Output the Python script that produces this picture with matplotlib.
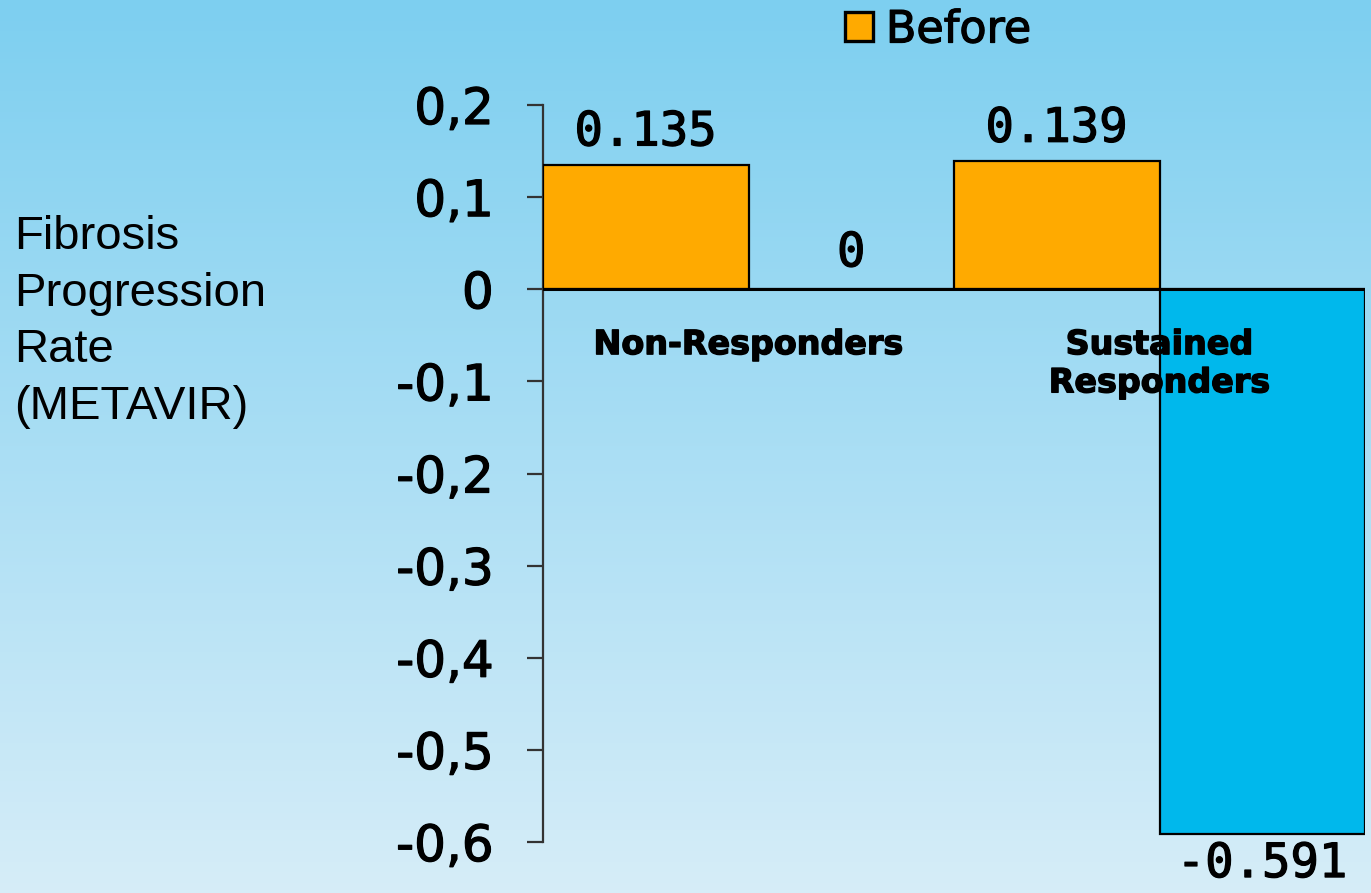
import numpy as np
import matplotlib
matplotlib.use("Agg")
import matplotlib.pyplot as plt
from matplotlib import patheffects as pe
from matplotlib.colors import LinearSegmentedColormap

categories = ["Non-Responders", "Sustained\nResponders"]
before = [0.135, 0.139]
after = [0.0, -0.591]
before_labels = ["0.135", "0.139"]
after_labels = ["0", "-0.591"]
yticks = [0.2, 0.1, 0.0, -0.1, -0.2, -0.3, -0.4, -0.5, -0.6]
ytick_labels = ["0,2", "0,1", "0", "-0,1", "-0,2", "-0,3", "-0,4", "-0,5", "-0,6"]

W, H = 1371, 893
fig = plt.figure(figsize=(W / 100, H / 100), dpi=100)

# background gradient
bg = fig.add_axes([0, 0, 1, 1], zorder=-10)
cmap = LinearSegmentedColormap.from_list("bg", ["#7dcff0", "#d6edf8"])
grad = np.linspace(0, 1, 256).reshape(-1, 1)
bg.imshow(grad, aspect="auto", cmap=cmap, extent=[0, 1, 0, 1], origin="upper")
bg.set_axis_off()

left = 543 / W
right = 1365 / W
top = 1 - 105 / H
bottom = 1 - 842 / H
ax = fig.add_axes([left, bottom, right - left, top - bottom])
ax.patch.set_alpha(0)

x = np.arange(len(categories))
w = 0.5
orange = "#ffaa00"
cyan = "#00b8ec"
b1 = ax.bar(x - w / 2, before, w, color=orange, edgecolor="black", linewidth=1.6, zorder=3)
b2 = ax.bar(x + w / 2, after, w, color=cyan, edgecolor="black", linewidth=1.6, zorder=3)

ax.set_xlim(-0.5, 1.5)
ax.set_ylim(-0.6, 0.2)
ax.axhline(0, color="black", linewidth=2.2, zorder=4)

thick = [pe.withStroke(linewidth=0.9, foreground="black")]

ax.set_yticks(yticks)
ax.set_yticklabels(ytick_labels, fontsize=36, family="DejaVu Sans")
for t in ax.get_yticklabels():
    t.set_path_effects(thick)
ax.tick_params(axis="y", direction="out", length=11.5, width=1.6, color="#333333", pad=24)
ax.set_xticks([])
for s in ["top", "right", "bottom"]:
    ax.spines[s].set_visible(False)
ax.spines["left"].set_color("#333333")
ax.spines["left"].set_linewidth(1.6)

mono = "DejaVu Sans Mono"
for xi, v, lab in zip(x - w / 2, before, before_labels):
    ax.annotate(lab, (xi, v), xytext=(0, 14), textcoords="offset points",
                ha="center", va="baseline", fontsize=34, family=mono, zorder=6,
                path_effects=thick)
for xi, v, lab in zip(x + w / 2, after, after_labels):
    if v >= 0:
        ax.annotate(lab, (xi, v), xytext=(0, 16.5), textcoords="offset points",
                    ha="center", va="baseline", fontsize=34, family=mono, zorder=6,
                    path_effects=thick)
    else:
        ax.annotate(lab, (xi, v), xytext=(0, -6), textcoords="offset points",
                    ha="center", va="top", fontsize=34, family=mono, zorder=6,
                    path_effects=thick)

for xi, cat in zip(x, categories):
    ax.annotate(cat, (xi, 0), xytext=(0, -28), textcoords="offset points",
                ha="center", va="top", fontsize=24, fontweight="bold",
                family="DejaVu Sans", linespacing=1.2, zorder=7,
                path_effects=[pe.withStroke(linewidth=1.0, foreground="black")])

fig.text(14 / W, 1 - 322 / H, "Fibrosis\nProgression\nRate\n(METAVIR)",
         ha="left", va="center", fontsize=34, family="Liberation Sans",
         linespacing=1.38, multialignment="left")

leg = ax.legend([b1[0]], ["Before"], loc="center left",
                bbox_to_anchor=(845 / W, 1 - 30 / H), bbox_transform=fig.transFigure,
                frameon=False, fontsize=32, handlelength=0.62, handleheight=0.62,
                handletextpad=0.3, borderpad=0, borderaxespad=0)
for h in leg.legend_handles:
    h.set_linewidth(2.4)
for t in leg.get_texts():
    t.set_path_effects(thick)

fig.savefig("out.png", dpi=100)
